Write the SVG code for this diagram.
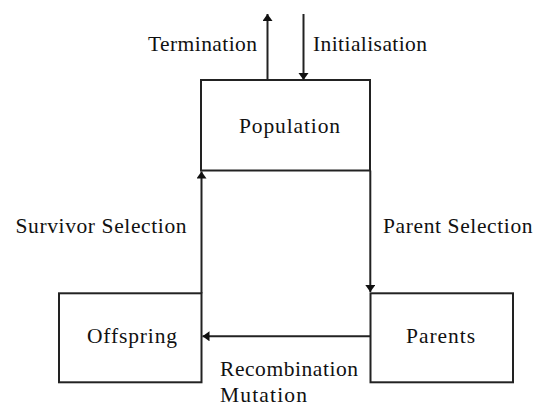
<svg xmlns="http://www.w3.org/2000/svg" width="537" height="407" viewBox="0 0 537 407">
<style>
.box{fill:#fff;stroke:#222;stroke-width:2}
.ln{fill:none;stroke:#222;stroke-width:2}
text{font-family:"Liberation Serif","Times New Roman",serif;font-size:21.5px;fill:#111}
</style>
<defs>
<marker id="ah" markerUnits="userSpaceOnUse" markerWidth="12" markerHeight="12" refX="7" refY="5" orient="auto">
<path d="M0,0 L7,5 L0,10 Z" fill="#111"/>
</marker>
</defs>
<rect width="537" height="407" fill="#fff"/>
<g id="population">
<rect class="box" x="201" y="80" width="169" height="90.5"/>
<text x="239" y="133" textLength="101" lengthAdjust="spacing">Population</text>
</g>
<g id="offspring">
<rect class="box" x="59" y="293.3" width="142.5" height="89"/>
<text x="87" y="343" textLength="90" lengthAdjust="spacing">Offspring</text>
</g>
<g id="parents">
<rect class="box" x="370.5" y="293.3" width="142.5" height="89"/>
<text x="406" y="343" textLength="69" lengthAdjust="spacing">Parents</text>
</g>
<g id="connectors">
<line class="ln" x1="267.5" y1="80" x2="267.5" y2="14" marker-end="url(#ah)"/>
<line class="ln" x1="303.5" y1="14" x2="303.5" y2="80" marker-end="url(#ah)"/>
<line class="ln" x1="370.3" y1="170.5" x2="370.3" y2="292" marker-end="url(#ah)"/>
<line class="ln" x1="370.5" y1="336.3" x2="202.5" y2="336.3" marker-end="url(#ah)"/>
<line class="ln" x1="201.5" y1="293.3" x2="201.5" y2="171.5" marker-end="url(#ah)"/>
<text x="148" y="51" textLength="109" lengthAdjust="spacing">Termination</text>
<text x="313" y="51" textLength="114" lengthAdjust="spacing">Initialisation</text>
<text x="15.5" y="233" textLength="171" lengthAdjust="spacing">Survivor Selection</text>
<text x="383" y="233" textLength="149.5" lengthAdjust="spacing">Parent Selection</text>
<text x="220" y="376" textLength="138" lengthAdjust="spacing">Recombination</text>
<text x="220" y="401.5" textLength="87" lengthAdjust="spacing">Mutation</text>
</g>
</svg>
